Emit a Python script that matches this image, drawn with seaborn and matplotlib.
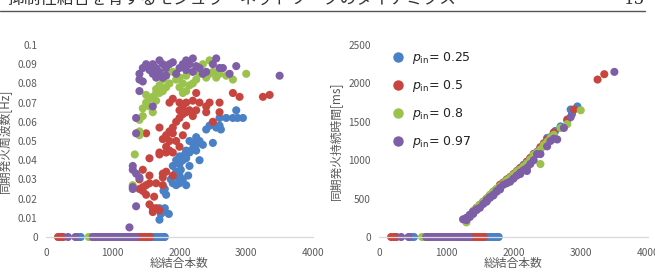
import seaborn as sns
import matplotlib.pyplot as plt
import matplotlib.ticker as mticker
from matplotlib.lines import Line2D
import pandas as pd

# data (total links, sync frequency [Hz], sync duration [ms])
series_names = ["0.25", "0.5", "0.8", "0.97"]
colors = ["#4A80C6", "#C8453F", "#9BC24D", "#7E5EA6"]

blue_links = [1700, 1720, 1750, 1840, 1700, 1780, 1760, 1800, 1780, 1900, 1950, 1870, 1980, 2000,
              1950, 2100, 2130, 1900, 1950, 2000, 2050, 2000, 2020, 2150, 2100, 2150, 2200, 2250,
              2300, 2200, 2250, 2300, 2150, 2100, 2080, 2350, 2250, 2400, 2450, 2500, 2550, 2600,
              2620, 2500, 2600, 2700, 2800, 2850, 2950, 2870, 2050, 2000,
              480, 520, 1560, 1600, 1640, 1680, 1720, 1760, 1780]
blue_freq = [0.009, 0.012, 0.013, 0.012, 0.015, 0.015, 0.024, 0.022, 0.025, 0.028, 0.027, 0.030, 0.031, 0.032,
             0.034, 0.027, 0.032, 0.037, 0.040, 0.042, 0.040, 0.038, 0.035, 0.037, 0.041, 0.044, 0.046, 0.045,
             0.040, 0.049, 0.052, 0.050, 0.050, 0.045, 0.043, 0.048, 0.048, 0.056, 0.058, 0.059, 0.057, 0.058,
             0.056, 0.049, 0.062, 0.062, 0.062, 0.066, 0.062, 0.062, 0.030, 0.028,
             0, 0, 0, 0, 0, 0, 0, 0, 0]
blue_dur = [580, 600, 620, 700, 560, 640, 610, 660, 630, 730, 760, 700, 790, 800,
            770, 890, 900, 720, 750, 790, 840, 810, 820, 930, 870, 920, 960, 1010,
            1060, 980, 1020, 1080, 940, 880, 860, 1110, 1000, 1160, 1200, 1290, 1300, 1360,
            1380, 1260, 1340, 1440, 1520, 1660, 1700, 1600, 850, 780,
            0, 0, 0, 0, 0, 0, 0, 0, 0]

red_links = [1600, 1650, 1550, 1600, 1700, 1500, 1620, 1450, 1400, 1500, 1550, 1650, 1750, 1450,
             1400, 1550, 1750, 1800, 1900, 1750, 1450, 1550, 1700, 1800, 1850, 1900, 1700, 1800,
             1850, 1750, 1800, 1900, 1850, 1950, 2000, 2050, 2100, 1700, 1900, 1500, 1950, 2000,
             2050, 2000, 2100, 2050, 2000, 2100, 2200, 2150, 2250, 2300, 2200, 1900, 2250, 2400,
             2400, 2450, 2600, 2600, 2500, 2800, 2900, 3250, 3350, 1850,
             180, 220, 260, 1320, 1360, 1400, 1440, 1480, 1520, 1560]
red_freq = [0.013, 0.015, 0.017, 0.015, 0.014, 0.022, 0.021, 0.024, 0.025, 0.027, 0.028, 0.028, 0.027, 0.026,
            0.030, 0.032, 0.033, 0.034, 0.032, 0.031, 0.035, 0.041, 0.044, 0.044, 0.045, 0.044, 0.043, 0.047,
            0.050, 0.051, 0.053, 0.054, 0.055, 0.050, 0.047, 0.053, 0.058, 0.057, 0.057, 0.054, 0.060, 0.062,
            0.064, 0.066, 0.065, 0.068, 0.070, 0.070, 0.063, 0.066, 0.066, 0.070, 0.071, 0.072, 0.075, 0.065,
            0.068, 0.070, 0.070, 0.065, 0.060, 0.075, 0.073, 0.073, 0.074, 0.070,
            0, 0, 0, 0, 0, 0, 0, 0, 0, 0]
red_dur = [480, 530, 450, 500, 570, 410, 510, 370, 330, 420, 460, 540, 610, 380,
           320, 440, 620, 670, 730, 600, 360, 450, 580, 660, 700, 740, 560, 650,
           690, 610, 680, 750, 710, 780, 820, 850, 890, 590, 720, 400, 770, 800,
           860, 790, 900, 840, 810, 880, 980, 930, 1030, 1080, 970, 730, 1020, 1170,
           1150, 1220, 1360, 1330, 1270, 1530, 1660, 2050, 2120, 700,
           0, 0, 0, 0, 0, 0, 0, 0, 0, 0]

green_links = [1330, 1300, 1400, 1400, 1400, 1450, 1450, 1500, 1550, 1500, 1550, 1600, 1600, 1650,
               1700, 1650, 1700, 1750, 1800, 1850, 1950, 2000, 2050, 2000, 2100, 2050, 2150, 2200,
               2250, 2300, 2350, 2400, 2450, 2500, 2550, 2400, 2600, 2700, 2800, 3000, 2450, 2100,
               1900, 1800, 1650, 1750,
               640, 680, 720, 1240, 1280]
green_freq = [0.043, 0.027, 0.055, 0.053, 0.061, 0.063, 0.067, 0.070, 0.072, 0.074, 0.068, 0.065, 0.073, 0.071,
              0.075, 0.077, 0.079, 0.076, 0.078, 0.080, 0.082, 0.083, 0.080, 0.078, 0.076, 0.075, 0.079, 0.080,
              0.082, 0.085, 0.090, 0.083, 0.085, 0.086, 0.083, 0.086, 0.085, 0.084, 0.082, 0.085, 0.092, 0.084,
              0.086, 0.085, 0.075, 0.082,
              0, 0, 0, 0, 0]
green_dur = [260, 190, 320, 330, 340, 380, 370, 410, 450, 420, 460, 490, 500, 540,
             580, 530, 590, 620, 660, 700, 770, 800, 850, 810, 880, 840, 920, 960,
             1010, 1070, 1100, 950, 1200, 1240, 1290, 1140, 1330, 1420, 1470, 1650, 1190, 870,
             740, 650, 550, 630,
             0, 0, 0, 0, 0]

purple_links = [1250, 1350, 1300, 1300, 1300, 1350, 1300, 1400, 1350, 1350, 1400, 1400, 1400, 1450,
                1450, 1500, 1550, 1600, 1600, 1650, 1650, 1700, 1750, 1700, 1800, 1800, 1850, 1900,
                1750, 1600, 2000, 2050, 2100, 2150, 2200, 2250, 2300, 2350, 2400, 2200, 2500, 2550,
                2600, 2650, 2750, 2850, 3500, 1950, 2100,
                330, 440, 700, 740, 780, 820, 860, 900, 940, 980, 1020, 1060, 1100, 1140,
                1180, 1220, 1260, 1300, 1340]
purple_freq = [0.005, 0.016, 0.025, 0.026, 0.035, 0.033, 0.037, 0.031, 0.054, 0.062, 0.076, 0.082, 0.085, 0.081,
               0.088, 0.090, 0.087, 0.085, 0.090, 0.083, 0.088, 0.092, 0.090, 0.086, 0.088, 0.084, 0.090, 0.091,
               0.083, 0.068, 0.088, 0.090, 0.092, 0.090, 0.093, 0.089, 0.088, 0.085, 0.086, 0.086, 0.090, 0.093,
               0.088, 0.088, 0.085, 0.089, 0.084, 0.085, 0.087,
               0, 0, 0, 0, 0, 0, 0, 0, 0, 0, 0, 0, 0, 0,
               0, 0, 0, 0, 0]
purple_dur = [230, 260, 240, 220, 250, 280, 230, 300, 270, 290, 330, 310, 320, 360,
              350, 380, 430, 470, 480, 510, 520, 550, 600, 540, 640, 620, 680, 700,
              590, 460, 760, 800, 840, 870, 900, 950, 1000, 1080, 1080, 860, 1180, 1250,
              1280, 1270, 1420, 1560, 2150, 720, 820,
              0, 0, 0, 0, 0, 0, 0, 0, 0, 0, 0, 0, 0, 0,
              0, 0, 0, 0, 0]

frames = []
for name, lk, fq, du in zip(series_names,
                            [blue_links, red_links, green_links, purple_links],
                            [blue_freq, red_freq, green_freq, purple_freq],
                            [blue_dur, red_dur, green_dur, purple_dur]):
    frames.append(pd.DataFrame({"links": lk, "freq": fq, "dur": du, "p": name}))
df = pd.concat(frames, ignore_index=True)

sns.set_style("white")
plt.rcParams["font.family"] = ["Noto Sans CJK JP", "DejaVu Sans"]
plt.rcParams["mathtext.fontset"] = "dejavusans"

gray = "#595959"
fig = plt.figure(figsize=(6.55, 2.8), dpi=100)
ax1 = fig.add_axes([46 / 655, 43 / 280, 267 / 655, 192 / 280])
ax2 = fig.add_axes([379 / 655, 43 / 280, 269 / 655, 192 / 280])

palette = dict(zip(series_names, colors))
for ax, ycol in [(ax1, "freq"), (ax2, "dur")]:
    sns.scatterplot(data=df, x="links", y=ycol, hue="p", hue_order=series_names, palette=palette,
                    s=34, linewidth=0, alpha=1, ax=ax, legend=False, clip_on=False)
    ax.set_xlim(0, 4000)
    ax.xaxis.set_major_locator(mticker.MultipleLocator(1000))
    for side in ["top", "right", "left"]:
        ax.spines[side].set_visible(False)
    ax.spines["bottom"].set_color("#D9D9D9")
    ax.spines["bottom"].set_linewidth(0.9)
    ax.tick_params(length=0, labelsize=7.3, labelcolor=gray)
    ax.tick_params(axis="y", pad=6)
    ax.tick_params(axis="x", pad=8)
    ax.set_xlabel("総結合本数", fontsize=8.5, color=gray)
    ax.xaxis.set_label_coords(0.5, -0.105)

ax1.set_ylim(0, 0.1)
ax1.yaxis.set_major_locator(mticker.MultipleLocator(0.01))
ax1.yaxis.set_major_formatter(mticker.FuncFormatter(lambda v, p: "%g" % round(v, 3)))
ax1.set_ylabel("同期発火周波数[Hz]", fontsize=8.5, color=gray)
ax1.yaxis.set_label_coords(-0.13, 0.5)

ax2.set_ylim(0, 2500)
ax2.yaxis.set_major_locator(mticker.MultipleLocator(500))
ax2.set_ylabel("同期発火持続時間[ms]", fontsize=8.5, color=gray)
ax2.yaxis.set_label_coords(-0.135, 0.5)

handles = [Line2D([], [], marker="o", linestyle="", markersize=7.5, markerfacecolor=c,
                  markeredgewidth=0) for c in colors]
labels = [r"$p_{\mathrm{in}}$= " + n for n in series_names]
leg = ax2.legend(handles, labels, loc="upper left", bbox_to_anchor=(0.005, 1.03), frameon=False,
                 labelspacing=0.95, handletextpad=0.6, handlelength=1.0,
                 prop={"family": ["DejaVu Sans"], "size": 9})
for t in leg.get_texts():
    t.set_color("#222222")

# clipped page header
fig.text(7 / 655, 276.5 / 280, "抑制性結合を有するモジュラーネットワークのダイナミクス",
         fontsize=12, color="#333333", va="baseline", ha="left")
fig.text(645 / 655, 276.5 / 280, "15", fontsize=12, color="#333333", va="baseline", ha="right",
         family=["DejaVu Serif"])
fig.add_artist(Line2D([0, 645 / 655], [269 / 280, 269 / 280], color="#555555", lw=1))

fig.savefig("out.png", dpi=100)
